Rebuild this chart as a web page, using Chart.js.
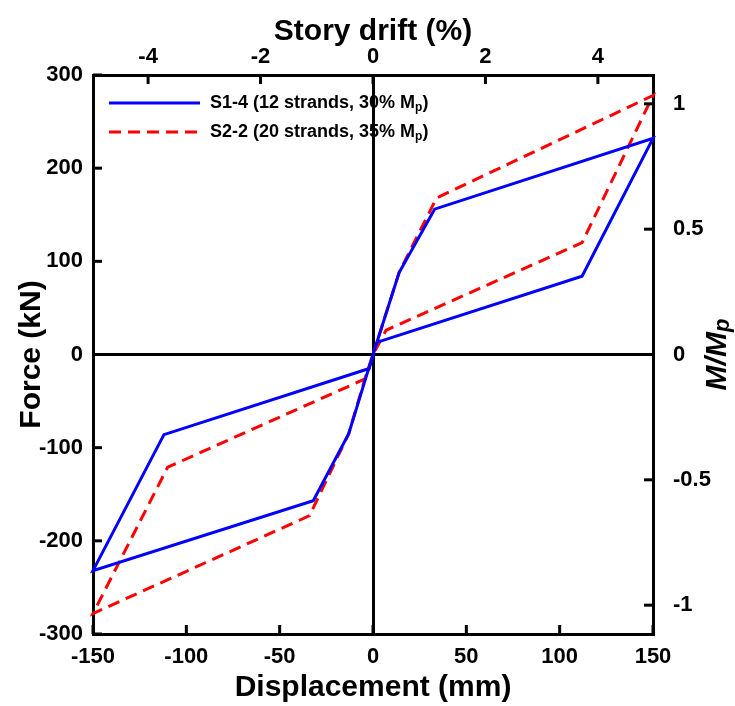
<!DOCTYPE html>
<html>
<head>
<meta charset="utf-8">
<script src="https://cdn.jsdelivr.net/npm/chart.js@4/dist/chart.umd.min.js"></script>
<style>
  html, body { margin: 0; padding: 0; background: #fff; }
  #wrap { width: 735px; height: 706px; }
</style>
</head>
<body>
<div id="wrap"><canvas id="hyst" width="735" height="706"></canvas></div>
<script>
// S1-4 (12 strands, 30% Mp) loop: displacement (mm) / force (kN)
const s14Disp  = [0, 14, 33, 150, 112, 2, 0, -2, -13, -32, -150, -112, -2, 0];
const s14Force = [0, 88, 156, 232, 84, 13, 0, -13, -85, -157, -232, -86, -15, 0];

// S2-2 (20 strands, 35% Mp) loop
const s22Disp  = [0, 14, 34, 150, 112, 7, 0, -4, -13, -34, -150, -110, -4, 0];
const s22Force = [0, 88, 168, 278, 120, 26, 0, -24, -85, -173, -278, -121, -26, 0];

// axis ticks
const dispTicks  = [-150, -100, -50, 0, 50, 100, 150];
const forceTicks = [-300, -200, -100, 0, 100, 200, 300];
const driftTicks = [-4, -2, 0, 2, 4];
const ratioTicks = [-1, -0.5, 0, 0.5, 1];

const legendLabels = ['S1-4 (12 strands, 30% M', 'S2-2 (20 strands, 35% M'];

const FONT = 'Liberation Sans, Arial, Helvetica, sans-serif';
Chart.defaults.font.family = FONT;
Chart.defaults.color = '#000';

const toPoints = (xs, ys) => xs.map((x, i) => ({ x: x, y: ys[i] }));

const tickFont = { size: 22, weight: 'bold' };
const titleFont = { size: 30, weight: 'bold' };

const zeroGrid = {
    drawTicks: false,
    lineWidth: 3,
    color: ctx => (ctx.tick && ctx.tick.value === 0) ? '#000' : 'rgba(0,0,0,0)'
};
const box = { display: true, color: '#000', width: 3 };
const setTicks = vals => scale => { scale.ticks = vals.map(v => ({ value: v })); };

// inward tick marks, custom legend with subscript, right title M/Mp
const decorations = {
    id: 'decorations',
    afterDraw(chart) {
        const { ctx, chartArea: a, scales } = chart;
        const len = 9;
        ctx.save();
        ctx.strokeStyle = '#000';
        ctx.lineWidth = 3;
        scales.x.ticks.forEach(t => {
            const p = scales.x.getPixelForValue(t.value);
            ctx.beginPath(); ctx.moveTo(p, a.bottom); ctx.lineTo(p, a.bottom - len); ctx.stroke();
        });
        scales.drift.ticks.forEach(t => {
            const p = scales.drift.getPixelForValue(t.value);
            ctx.beginPath(); ctx.moveTo(p, a.top); ctx.lineTo(p, a.top + len); ctx.stroke();
        });
        scales.y.ticks.forEach(t => {
            const p = scales.y.getPixelForValue(t.value);
            ctx.beginPath(); ctx.moveTo(a.left, p); ctx.lineTo(a.left + len, p); ctx.stroke();
        });
        scales.ratio.ticks.forEach(t => {
            const p = scales.ratio.getPixelForValue(t.value);
            ctx.beginPath(); ctx.moveTo(a.right, p); ctx.lineTo(a.right - len, p); ctx.stroke();
        });

        // legend
        const lx = a.left + 16, ly = a.top + 28, gap = 29;
        chart.data.datasets.forEach((ds, i) => {
            const y = ly + i * gap;
            ctx.strokeStyle = ds.borderColor;
            ctx.lineWidth = 3;
            ctx.setLineDash(ds.borderDash || []);
            ctx.beginPath(); ctx.moveTo(lx, y); ctx.lineTo(lx + 91, y); ctx.stroke();
            ctx.setLineDash([]);
            ctx.fillStyle = '#000';
            ctx.textBaseline = 'middle';
            ctx.textAlign = 'left';
            ctx.font = 'bold 18px ' + FONT;
            let tx = lx + 101;
            ctx.fillText(legendLabels[i], tx, y);
            tx += ctx.measureText(legendLabels[i]).width;
            ctx.font = 'bold 12px ' + FONT;
            ctx.fillText('p', tx, y + 5);
            tx += ctx.measureText('p').width;
            ctx.font = 'bold 18px ' + FONT;
            ctx.fillText(')', tx, y);
        });

        // right axis title M/Mp
        ctx.translate(718, (a.top + a.bottom) / 2);
        ctx.rotate(-Math.PI / 2);
        ctx.font = 'italic bold 30px ' + FONT;
        const w1 = ctx.measureText('M/M').width;
        ctx.font = 'italic bold 22px ' + FONT;
        const w2 = ctx.measureText('p').width;
        let sx = -(w1 + w2) / 2;
        ctx.textBaseline = 'middle';
        ctx.fillStyle = '#000';
        ctx.font = 'italic bold 30px ' + FONT;
        ctx.fillText('M/M', sx, 0);
        ctx.font = 'italic bold 22px ' + FONT;
        ctx.fillText('p', sx + w1, 5);
        ctx.restore();
    }
};

new Chart(document.getElementById('hyst'), {
    type: 'scatter',
    data: {
        datasets: [
            {
                label: 'S1-4 (12 strands, 30% Mp)',
                data: toPoints(s14Disp, s14Force),
                showLine: true,
                borderColor: '#0000FF',
                borderWidth: 3,
                pointRadius: 0,
                clip: 4
            },
            {
                label: 'S2-2 (20 strands, 35% Mp)',
                data: toPoints(s22Disp, s22Force),
                showLine: true,
                borderColor: '#FF0000',
                borderWidth: 3,
                borderDash: [12, 7],
                pointRadius: 0,
                clip: 4
            }
        ]
    },
    options: {
        responsive: false,
        animation: false,
        layout: { padding: 0 },
        plugins: {
            legend: { display: false },
            tooltip: { enabled: false }
        },
        scales: {
            x: {
                type: 'linear',
                position: 'bottom',
                min: -150, max: 150,
                afterBuildTicks: setTicks(dispTicks),
                ticks: { font: tickFont, color: '#000', padding: 10, maxRotation: 0, callback: v => String(v) },
                grid: zeroGrid,
                border: box,
                title: { display: true, text: 'Displacement (mm)', font: titleFont, color: '#000', padding: { bottom: 0 } },
                afterFit: s => { s.height = 72; }
            },
            drift: {
                type: 'linear',
                position: 'top',
                min: -4.98, max: 4.98,
                afterBuildTicks: setTicks(driftTicks),
                ticks: { font: tickFont, color: '#000', padding: -3, maxRotation: 0, callback: v => String(v) },
                grid: { display: false },
                border: box,
                title: { display: true, text: 'Story drift (%)', font: titleFont, color: '#000', padding: { top: 14 } },
                afterFit: s => { s.height = 75; }
            },
            y: {
                type: 'linear',
                position: 'left',
                min: -300, max: 300,
                afterBuildTicks: setTicks(forceTicks),
                ticks: { font: tickFont, color: '#000', padding: 10, callback: v => String(v) },
                grid: zeroGrid,
                border: box,
                title: { display: true, text: 'Force (kN)', font: titleFont, color: '#000', padding: { top: 14 } },
                afterFit: s => { s.width = 93; }
            },
            ratio: {
                type: 'linear',
                position: 'right',
                min: -1.115, max: 1.115,
                afterBuildTicks: setTicks(ratioTicks),
                ticks: { font: tickFont, color: '#000', padding: 12, callback: v => String(v) },
                grid: { display: false },
                border: box,
                afterFit: s => { s.width = 82; }
            }
        }
    },
    plugins: [decorations]
});
</script>
</body>
</html>
